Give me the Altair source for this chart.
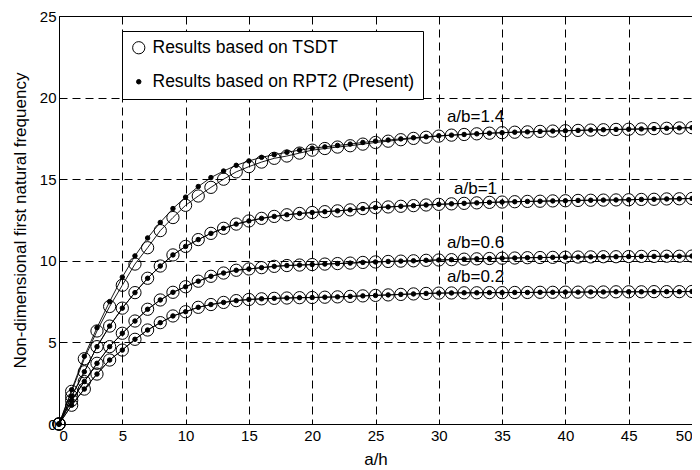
import altair as alt
import pandas as pd

xs = list(range(0, 51))

# a/b = 1.4 (the two theories differ at small a/h)
tsdt_14 = [0, 2.0, 4.0, 5.7, 7.2, 8.5, 9.8, 10.8, 11.85, 12.65, 13.4,
           13.97, 14.5, 15.0, 15.45, 15.77, 16.05, 16.28, 16.42, 16.6, 16.78,
           16.88, 16.97, 17.05, 17.15, 17.25, 17.33, 17.42, 17.5, 17.57, 17.64,
           17.7, 17.74, 17.78, 17.82, 17.85, 17.88, 17.9, 17.93, 17.95, 17.97,
           17.99, 18.01, 18.03, 18.05, 18.06, 18.08, 18.1, 18.12, 18.14, 18.16]
rpt2_14 = [0, 2.1, 4.15, 5.9, 7.5, 9.0, 10.3, 11.4, 12.35, 13.2, 13.9,
           14.55, 15.1, 15.5, 15.85, 16.12, 16.34, 16.5, 16.65, 16.78, 16.9,
           16.98, 17.07, 17.15, 17.25, 17.33, 17.4, 17.47, 17.54, 17.6, 17.66,
           17.7, 17.74, 17.78, 17.82, 17.85, 17.88, 17.9, 17.93, 17.95, 17.97,
           17.99, 18.01, 18.03, 18.05, 18.06, 18.08, 18.1, 18.12, 18.14, 18.16]
# a/b = 1, 0.6, 0.2 (both theories coincide)
vals_10 = [0, 1.7, 3.2, 4.74, 6.0, 7.1, 8.05, 8.93, 9.68, 10.36, 10.88,
           11.3, 11.68, 11.99, 12.25, 12.44, 12.6, 12.72, 12.82, 12.9, 12.96,
           13.01, 13.06, 13.12, 13.2, 13.26, 13.3, 13.34, 13.38, 13.42, 13.46,
           13.49, 13.52, 13.55, 13.58, 13.6, 13.62, 13.64, 13.65, 13.67, 13.68,
           13.7, 13.71, 13.72, 13.73, 13.74, 13.76, 13.77, 13.79, 13.8, 13.82]
vals_06 = [0, 1.45, 2.6, 3.72, 4.74, 5.56, 6.31, 7.03, 7.6, 8.07, 8.41,
           8.75, 9.05, 9.25, 9.42, 9.5, 9.58, 9.66, 9.71, 9.74, 9.77,
           9.8, 9.83, 9.86, 9.9, 9.93, 9.96, 9.98, 10.0, 10.03, 10.05,
           10.07, 10.1, 10.12, 10.14, 10.16, 10.17, 10.19, 10.2, 10.21, 10.22,
           10.23, 10.24, 10.25, 10.25, 10.26, 10.27, 10.27, 10.28, 10.28, 10.29]
vals_02 = [0, 1.15, 2.14, 3.06, 3.92, 4.53, 5.19, 5.76, 6.21, 6.62, 6.88,
           7.15, 7.32, 7.45, 7.56, 7.63, 7.67, 7.7, 7.72, 7.74, 7.75,
           7.77, 7.79, 7.82, 7.85, 7.88, 7.91, 7.94, 7.97, 8.0, 8.02,
           8.03, 8.04, 8.04, 8.05, 8.05, 8.06, 8.06, 8.07, 8.07, 8.08,
           8.08, 8.09, 8.09, 8.1, 8.1, 8.1, 8.11, 8.11, 8.11, 8.12]

methods = ["Results based on TSDT", "Results based on RPT2 (Present)"]

label_text = ["a/b=1.4", "a/b=1", "a/b=0.6", "a/b=0.2"]
label_x = [32.9, 32.9, 32.9, 32.9]
label_y = [18.8, 14.4, 11.1, 9.0]

series = [
    ("1.4", methods[0], tsdt_14), ("1.4", methods[1], rpt2_14),
    ("1", methods[0], vals_10), ("1", methods[1], vals_10),
    ("0.6", methods[0], vals_06), ("0.6", methods[1], vals_06),
    ("0.2", methods[0], vals_02), ("0.2", methods[1], vals_02),
]
rows = []
for ab, m, vals in series:
    for x, y in zip(xs, vals):
        rows.append({"x": x, "y": y, "ab": ab, "method": m, "key": ab + "|" + m})
df = pd.DataFrame(rows)
lab = pd.DataFrame({"x": label_x, "y": label_y, "t": label_text})

FONT = "Liberation Sans"

xenc = alt.X("x:Q", scale=alt.Scale(domain=[0, 50], nice=False),
             axis=alt.Axis(title="a/h", values=list(range(0, 51, 5)), labelPadding=4,
                           titleBaseline="alphabetic", titleY=40))
yenc = alt.Y("y:Q", scale=alt.Scale(domain=[0, 25], nice=False),
             axis=alt.Axis(title="Non-dimensional first natural frequency",
                           values=list(range(0, 26, 5)), labelPadding=3, titlePadding=10))

lines = alt.Chart(df).mark_line(color="black", strokeWidth=0.9).encode(
    x=xenc, y=yenc, detail="key:N")

leg = alt.Legend(title=None, labelLimit=0)
points = alt.Chart(df).mark_point(shape="circle", strokeWidth=1, opacity=1).encode(
    x="x:Q", y="y:Q",
    fill=alt.Fill("method:N", scale=alt.Scale(domain=methods, range=["transparent", "black"]),
                  legend=leg),
    stroke=alt.Stroke("method:N", scale=alt.Scale(domain=methods, range=["black", "black"]),
                      legend=leg),
    size=alt.Size("method:N", scale=alt.Scale(domain=methods, range=[150, 20]),
                  legend=leg),
)

texts = alt.Chart(lab).mark_text(font=FONT, fontSize=17, color="black", align="center",
                                 baseline="middle").encode(x="x:Q", y="y:Q", text="t:N")

chart = alt.layer(lines, points, texts).properties(
    width=633, height=408,
    autosize=alt.AutoSizeParams(type="none"),
    padding={"left": 51, "top": 8, "right": 0, "bottom": 46},
).configure_view(stroke="black", strokeWidth=1).configure_axis(
    grid=True, gridDash=[8, 5], gridColor="black", gridWidth=1,
    domain=False, ticks=False, labelFont=FONT, titleFont=FONT,
    labelFontSize=15, titleFontSize=17, titleFontWeight="normal",
    labelColor="black", titleColor="black",
).configure_legend(
    orient="none", legendX=63, legendY=15, direction="vertical",
    strokeColor="black", fillColor="white", padding=8, rowPadding=15,
    labelFont=FONT, labelFontSize=17.5, labelColor="black", labelLimit=0,
    symbolStrokeColor="black", symbolStrokeWidth=1, labelOffset=5,
    cornerRadius=0,
)

chart.save("out.html", embed_options={"renderer": "svg", "actions": False})
